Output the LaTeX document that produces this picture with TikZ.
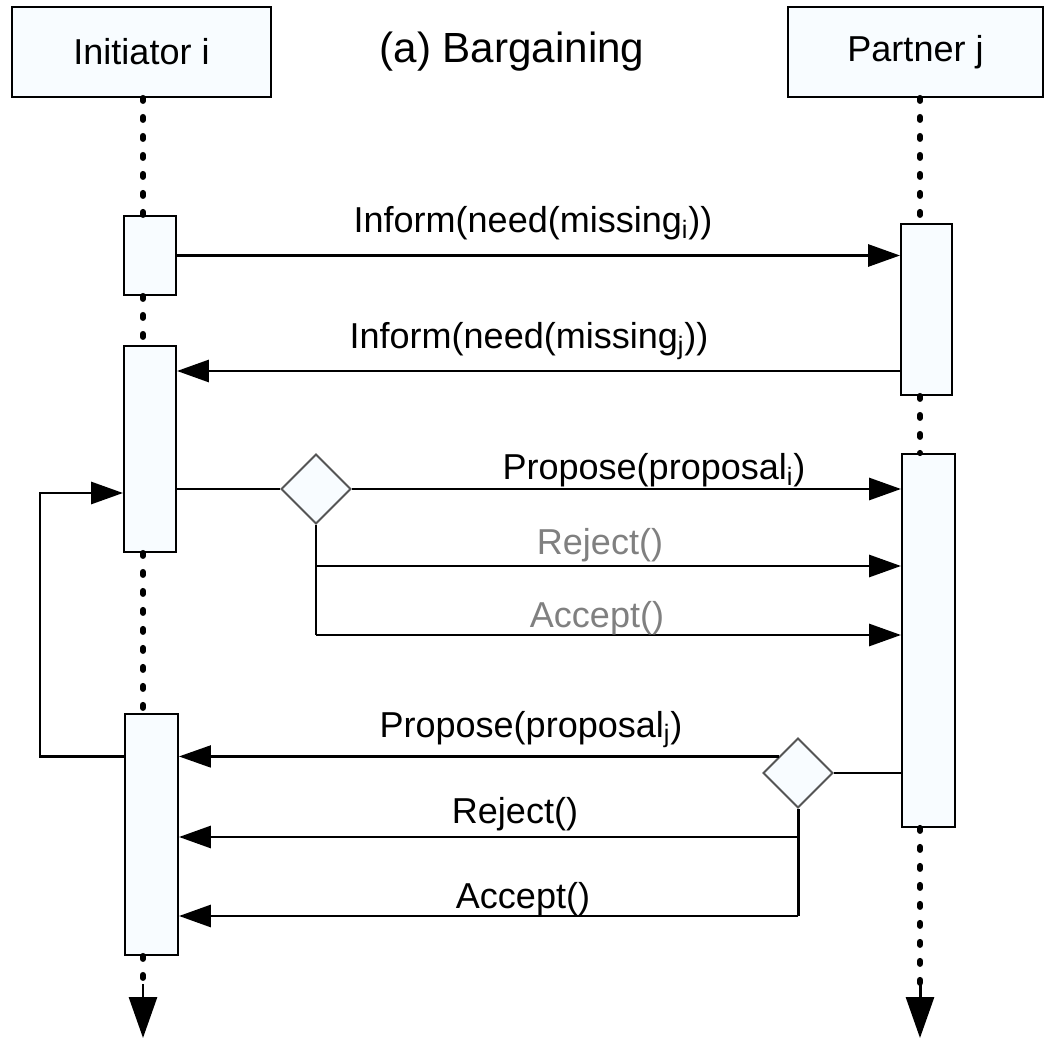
\documentclass[tikz,border=0pt]{standalone}
\usepackage{fontspec}
\setmainfont{Liberation Sans}
\usetikzlibrary{arrows.meta,shapes.geometric,calc}
\definecolor{boxfill}{RGB}{248,252,255}
\definecolor{labelgray}{RGB}{128,128,128}
\definecolor{diamondline}{RGB}{85,85,85}
\begin{document}
\begin{tikzpicture}[x=0.02cm,y=-0.02cm,
  every node/.style={font=\fontsize{20.5}{24}\selectfont},
  actor/.style={draw,line width=1.1pt,fill=boxfill,inner sep=0pt,
    minimum width=#1,minimum height=1.8cm},
  activation/.style={draw,line width=1.1pt,fill=boxfill,inner sep=0pt,
    minimum width=1.04cm,minimum height=#1},
  choice/.style={diamond,draw=diamondline,line width=1.1pt,fill=boxfill,
    inner sep=0pt,minimum width=1.4cm,minimum height=1.4cm},
  lifeline/.style={line width=0.12cm,line cap=round,dash pattern=on 0.06cm off 0.32cm},
  endtip/.style={-{Triangle[length=0.82cm,width=0.56cm]}},
  msg/.style={line width=1.7pt,-{Triangle[length=0.64cm,width=0.44cm]}},
  wire/.style={line width=1.7pt},
  lbl/.style={anchor=base,inner sep=0pt},
  greylbl/.style={lbl,text=labelgray}]
\useasboundingbox (0,0) rectangle (1045,1043);

% participants
\node[actor=5.18cm] (ihead) at (141.5,52) {Initiator i};
\node[actor=5.1cm] (jhead) at (915.5,52) {Partner j};
\node[lbl,font=\fontsize{24}{28}\selectfont] (title) at (512,63) {(a) Bargaining};

% lifeline axes
\coordinate (li) at (143,0);
\coordinate (lj) at (920,0);

% activation bars
\node[activation=1.58cm] (i1) at (150,255.5) {};
\node[activation=4.12cm] (i2) at (150,449) {};
\node[activation=4.82cm,minimum width=1.06cm] (i3) at (151.5,834.5) {};
\node[activation=3.42cm,minimum width=1.02cm] (j1) at (926.5,309.5) {};
\node[activation=7.46cm,minimum width=1.06cm] (j2) at (928.5,640.5) {};

% dotted lifelines
\draw[lifeline] (ihead.south -| li) -- (i1.north -| li);
\draw[lifeline] (i1.south -| li) -- (i2.north -| li);
\draw[lifeline] (i2.south -| li) -- (i3.north -| li);
\coordinate (iend) at (143,1038);
\draw[lifeline] (i3.south -| li) -- (143,990);
\draw[endtip,line width=1.7pt] (143,984) -- (iend);
\draw[lifeline] (jhead.south -| lj) -- (j1.north -| lj);
\draw[lifeline] (j1.south -| lj) -- (j2.north -| lj);
\coordinate (jend) at (920,1038);
\draw[lifeline] (j2.south -| lj) -- (920,990);
\draw[endtip,line width=1.7pt] (920,984) -- (jend);

% decision points
\node[choice] (di) at (316,489) {};
\node[choice] (dj) at (798,773) {};

% row positions
\coordinate (r2) at (0,371);
\coordinate (r5) at (0,566);
\coordinate (r6) at (0,635);
\coordinate (r8) at (0,837);
\coordinate (r9) at (0,916);
\coordinate (pj) at ($(dj.west)!0.46!(dj.north)$);

% need exchange
\draw[msg] (i1.east) -- (i1.east -| j1.west);
\node[lbl] (l1) at (533,233) {Inform(need(missing\textsubscript{i}))};
\draw[msg] (j1.west |- r2) -- (i2.east |- r2);
\node[lbl] (l2) at (529,349) {Inform(need(missing\textsubscript{j}))};

% proposal of i
\draw[wire] (i2.east |- di.west) -- (di.west);
\draw[msg] (di.east) -- (di.east -| j2.west);
\node[lbl] (l3) at (654,480) {Propose(proposal\textsubscript{i})};
\draw[wire] (di.south) -- (di.south |- r6);
\draw[msg] (di.south |- r5) -- (j2.west |- r5);
\draw[msg] (di.south |- r6) -- (j2.west |- r6);
\node[greylbl] (l4) at (600,555) {Reject()};
\node[greylbl] (l5) at (597,627) {Accept()};

% proposal of j
\draw[wire] (j2.west |- dj.east) -- (dj.east);
\draw[msg,line width=1.2pt] (pj) -- (i3.east |- pj);
\node[lbl] (l6) at (531,737) {Propose(proposal\textsubscript{j})};
\draw[wire] (dj.south) -- (dj.south |- r9);
\draw[msg] (dj.south |- r8) -- (i3.east |- r8);
\draw[msg] (dj.south |- r9) -- (i3.east |- r9);
\node[lbl] (l7) at (515,823) {Reject()};
\node[lbl] (l8) at (523,908) {Accept()};

% counter-proposal loop back to i
\coordinate (lp) at (40,493);
\draw[msg] (i3.west |- pj) -| (lp) -- (i2.west |- lp);
\end{tikzpicture}
\end{document}
